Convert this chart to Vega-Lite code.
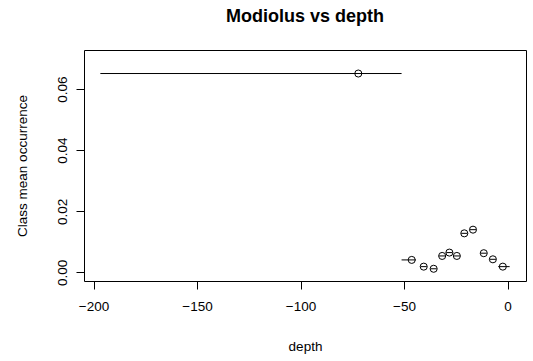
{
  "$schema": "https://vega.github.io/schema/vega-lite/v6.json",
  "width": 442,
  "height": 231,
  "autosize": {"type": "none"},
  "padding": {"left": 84, "top": 50, "right": 7, "bottom": 80},
  "background": "white",
  "config": {
    "font": "Liberation Sans",
    "view": {"stroke": "black", "strokeWidth": 1},
    "axis": {
      "domain": false,
      "grid": false,
      "tickColor": "black",
      "tickSize": 8,
      "labelColor": "black",
      "labelFontSize": 13.5,
      "titleFontSize": 13.5,
      "titleColor": "black",
      "titleFontWeight": "normal",
      "labelFont": "Liberation Sans",
      "titleFont": "Liberation Sans"
    }
  },
  "title": {
    "text": "Modiolus vs depth",
    "fontSize": 18,
    "fontWeight": "bold",
    "font": "Liberation Sans",
    "color": "black",
    "anchor": "middle",
    "offset": 24
  },
  "data": {
    "values": [
      {"depth": -72.1, "lo": -196.7, "hi": -51.2, "occ": 0.0651},
      {"depth": -46.3, "lo": -51.2, "hi": -44.3, "occ": 0.0041},
      {"depth": -40.5, "lo": -42.0, "hi": -39.0, "occ": 0.0019},
      {"depth": -35.7, "lo": -37.2, "hi": -34.2, "occ": 0.0012},
      {"depth": -31.6, "lo": -33.1, "hi": -30.1, "occ": 0.0054},
      {"depth": -28.1, "lo": -29.6, "hi": -26.6, "occ": 0.0065},
      {"depth": -24.5, "lo": -26.0, "hi": -23.0, "occ": 0.0054},
      {"depth": -20.9, "lo": -22.4, "hi": -19.4, "occ": 0.0128},
      {"depth": -16.7, "lo": -18.2, "hi": -15.2, "occ": 0.0140},
      {"depth": -11.5, "lo": -13.0, "hi": -10.0, "occ": 0.0063},
      {"depth": -7.1, "lo": -8.6, "hi": -5.6, "occ": 0.0043},
      {"depth": -2.3, "lo": -4.5, "hi": 1.0, "occ": 0.0019}
    ]
  },
  "layer": [
    {
      "mark": {"type": "rule", "color": "black", "strokeWidth": 1},
      "encoding": {
        "x": {"field": "lo", "type": "quantitative"},
        "x2": {"field": "hi"},
        "y": {"field": "occ", "type": "quantitative"}
      }
    },
    {
      "mark": {"type": "point", "shape": "circle", "filled": false, "stroke": "black", "strokeWidth": 1, "size": 50, "opacity": 1},
      "encoding": {
        "x": {
          "field": "depth",
          "type": "quantitative",
          "scale": {"domain": [-204.6, 8.9], "nice": false, "zero": false},
          "axis": {"title": "depth", "values": [-200, -150, -100, -50, 0], "labelPadding": 10, "titlePadding": 27}
        },
        "y": {
          "field": "occ",
          "type": "quantitative",
          "scale": {"domain": [-0.0028, 0.0728], "nice": false, "zero": false},
          "axis": {
            "title": "Class mean occurrence",
            "values": [0, 0.01, 0.02, 0.03, 0.04, 0.05, 0.06, 0.07],
            "labelExpr": "round(datum.value * 100) % 2 == 0 ? format(datum.value, '.2f') : ''",
            "labelAngle": -90,
            "labelAlign": "center",
            "labelBaseline": "bottom",
            "labelPadding": 7,
            "titlePadding": 26
          }
        }
      }
    }
  ]
}
